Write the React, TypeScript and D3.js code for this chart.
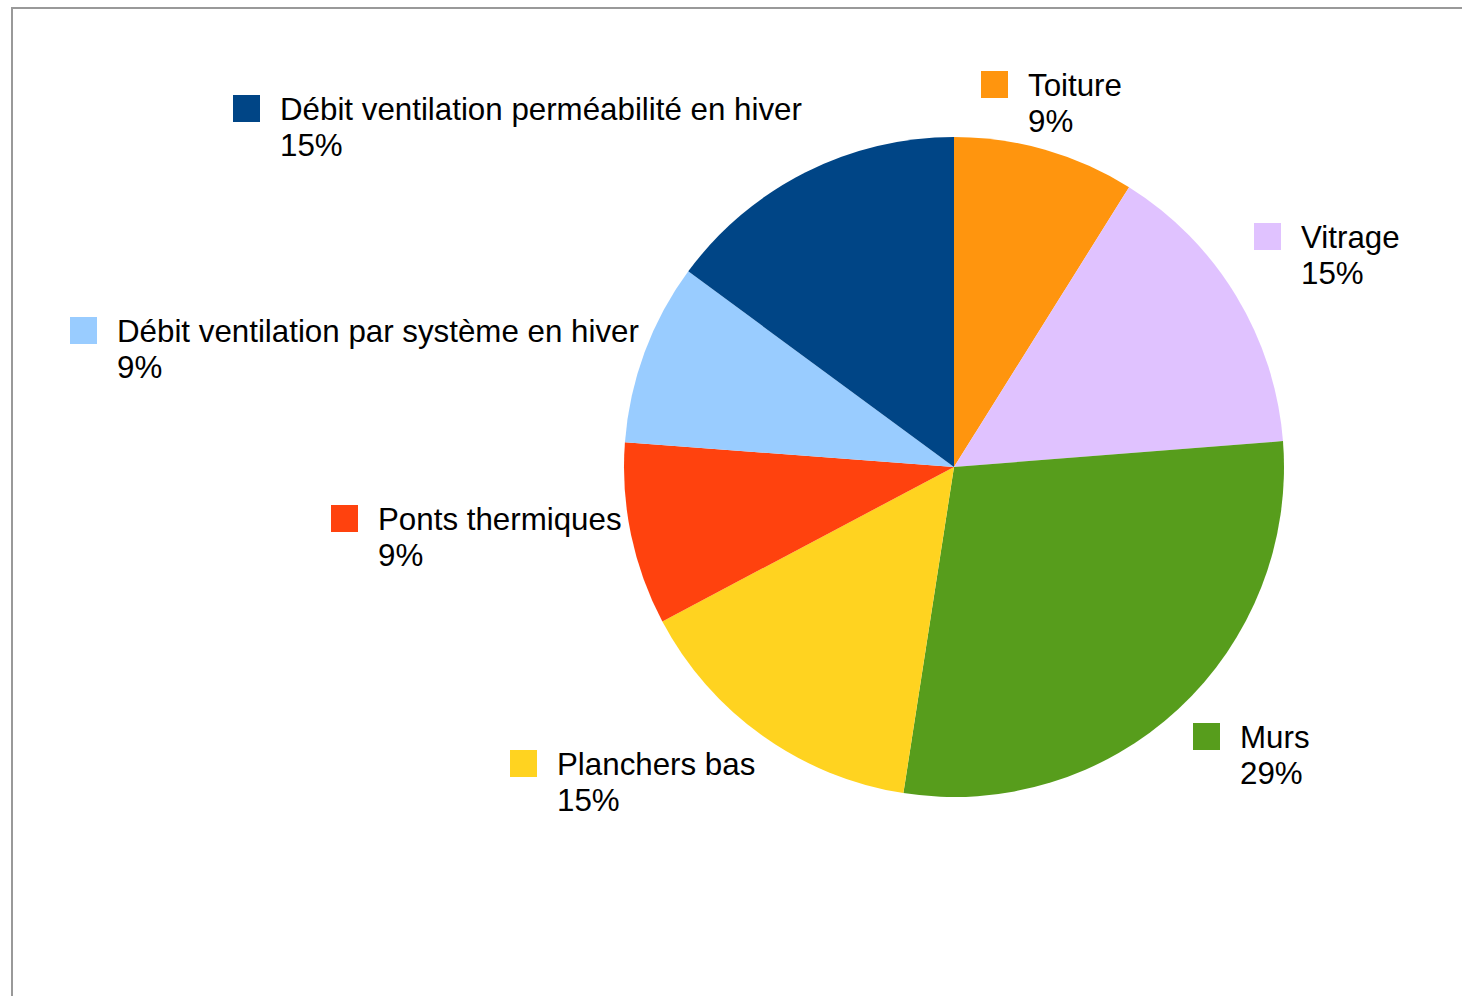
import React from "react";
import * as d3 from "d3";

const categories = [
  "Toiture",
  "Vitrage",
  "Murs",
  "Planchers bas",
  "Ponts thermiques",
  "Débit ventilation par système en hiver",
  "Débit ventilation perméabilité en hiver",
];
const values = [8.9, 14.85, 28.7, 14.8, 8.95, 8.9, 14.9];
const colors = ["#ff950e", "#e0c2ff", "#579d1c", "#ffd320", "#ff420e", "#99ccff", "#004586"];

// layout: legend square top-left per category
const labelPos: [number, number][] = [
  [981, 71],
  [1254, 223],
  [1193, 723],
  [510, 750],
  [331, 505],
  [70, 317],
  [233, 95],
];

const W = 1462;
const H = 996;
const CX = 954;
const CY = 467;
const R = 330;
const SQ = 27;
const FONT = 31.3;

export default function App() {
  const data = categories.map((c, i) => ({ c, v: values[i], i }));
  const total = d3.sum(values);
  const pie = d3
    .pie<{ c: string; v: number; i: number }>()
    .value((d) => d.v)
    .sort(null)
    .startAngle(0)
    .endAngle(2 * Math.PI);
  const arc = d3
    .arc<d3.PieArcDatum<{ c: string; v: number; i: number }>>()
    .innerRadius(0)
    .outerRadius(R);
  const arcs = pie(data);
  const fmt = (v: number) => `${Math.round((v / total) * 100)}%`;

  return (
    <svg
      width={W}
      height={H}
      style={{ position: "absolute", left: 0, top: 0, background: "#fff" }}
      fontFamily="'Liberation Sans', Arial, sans-serif"
    >
      <rect x={0} y={0} width={W} height={H} fill="#fff" />
      <line x1={11} y1={8} x2={W} y2={8} stroke="#999" strokeWidth={2} />
      <line x1={12} y1={7} x2={12} y2={H} stroke="#999" strokeWidth={2} />
      <g transform={`translate(${CX},${CY})`}>
        {arcs.map((a) => (
          <path key={a.data.c} d={arc(a) || ""} fill={colors[a.data.i]} />
        ))}
      </g>
      {data.map((d) => {
        const [x, y] = labelPos[d.i];
        return (
          <g key={d.c}>
            <rect x={x} y={y} width={SQ} height={SQ} fill={colors[d.i]} />
            <text x={x + SQ + 20} y={y + 25} fontSize={FONT} fill="#000">
              {d.c}
            </text>
            <text x={x + SQ + 20} y={y + 61} fontSize={FONT} fill="#000">
              {fmt(d.v)}
            </text>
          </g>
        );
      })}
    </svg>
  );
}
